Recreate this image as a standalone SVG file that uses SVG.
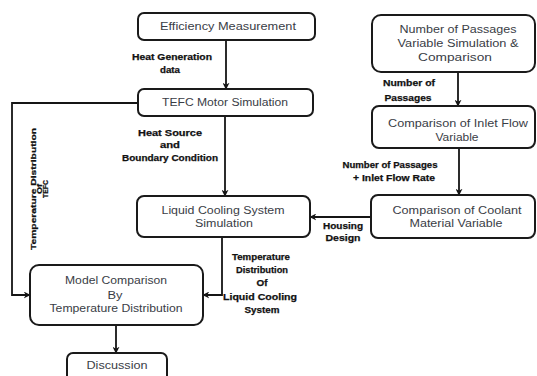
<svg xmlns="http://www.w3.org/2000/svg" width="537" height="376" viewBox="0 0 537 376">
  <defs>
    <marker id="arrow" viewBox="0 0 10 10" refX="9" refY="5" markerWidth="7" markerHeight="7" markerUnits="userSpaceOnUse" orient="auto">
      <path d="M0,0 L10,5 L0,10 L3,5 Z" fill="#151515"/>
    </marker>
    <style>
      .box { fill: #ffffff; stroke: #1a1a1a; stroke-width: 2; }
      .bt { font-family: "Liberation Sans", Arial, sans-serif; font-size: 10px; fill: #3a3d46; text-anchor: middle; }
      .lb { font-family: "Liberation Sans", Arial, sans-serif; font-size: 9px; font-weight: bold; fill: #111111; stroke: #111111; stroke-width: 0.25; text-anchor: middle; }
      .vl { font-size: 8px; }
      .conn { fill: none; stroke: #151515; stroke-width: 1.8; }
    </style>
  </defs>
  <rect width="537" height="376" fill="#ffffff"/>

  <!-- connectors -->
  <g id="connectors">
    <path class="conn" d="M226,40 V89" marker-end="url(#arrow)"/>
    <path class="conn" d="M225,116 V196" marker-end="url(#arrow)"/>
    <path class="conn" d="M138,103 H12 V295 H30" marker-end="url(#arrow)"/>
    <path class="conn" d="M222,237 V295 H203" marker-end="url(#arrow)"/>
    <path class="conn" d="M116,325 V353" marker-end="url(#arrow)"/>
    <path class="conn" d="M458,72 V106" marker-end="url(#arrow)"/>
    <path class="conn" d="M459,148 V195" marker-end="url(#arrow)"/>
    <path class="conn" d="M372,217 H310" marker-end="url(#arrow)"/>
  </g>

  <!-- connector labels -->
  <g id="labels">
    <text class="lb" x="172" y="60" textLength="80" lengthAdjust="spacingAndGlyphs">Heat Generation</text>
    <text class="lb" x="170" y="73" textLength="20" lengthAdjust="spacingAndGlyphs">data</text>
    <text class="lb" x="170" y="136" textLength="64" lengthAdjust="spacingAndGlyphs">Heat Source</text>
    <text class="lb" x="170" y="148" textLength="20" lengthAdjust="spacingAndGlyphs">and</text>
    <text class="lb" x="170" y="161" textLength="96" lengthAdjust="spacingAndGlyphs">Boundary Condition</text>
    <text class="lb" x="409" y="86" textLength="52" lengthAdjust="spacingAndGlyphs">Number of</text>
    <text class="lb" x="408" y="101" textLength="47" lengthAdjust="spacingAndGlyphs">Passages</text>
    <text class="lb" x="390" y="168" textLength="95" lengthAdjust="spacingAndGlyphs">Number of Passages</text>
    <text class="lb" x="394" y="181" textLength="82" lengthAdjust="spacingAndGlyphs">+ Inlet Flow Rate</text>
    <text class="lb" x="343" y="229" textLength="40" lengthAdjust="spacingAndGlyphs">Housing</text>
    <text class="lb" x="343" y="241" textLength="35" lengthAdjust="spacingAndGlyphs">Design</text>
    <text class="lb" x="261" y="260" textLength="58" lengthAdjust="spacingAndGlyphs">Temperature</text>
    <text class="lb" x="262" y="273" textLength="52" lengthAdjust="spacingAndGlyphs">Distribution</text>
    <text class="lb" x="262" y="286" textLength="11" lengthAdjust="spacingAndGlyphs">Of</text>
    <text class="lb" x="260" y="300" textLength="74" lengthAdjust="spacingAndGlyphs">Liquid Cooling</text>
    <text class="lb" x="262" y="313" textLength="35" lengthAdjust="spacingAndGlyphs">System</text>
    <g transform="translate(0,189) rotate(-90)">
      <text class="lb vl" x="0" y="35.5" textLength="122" lengthAdjust="spacingAndGlyphs">Temperature Distribution</text>
      <text class="lb vl" x="0" y="41.5" textLength="10" lengthAdjust="spacingAndGlyphs">Of</text>
      <text class="lb vl" x="0" y="47.5" textLength="18" lengthAdjust="spacingAndGlyphs">TEFC</text>
    </g>
  </g>

  <!-- process boxes -->
  <g id="efficiency-measurement">
    <rect class="box" x="138" y="13" width="177" height="27" rx="6"/>
    <text class="bt" x="228" y="30" textLength="136" lengthAdjust="spacingAndGlyphs">Efficiency Measurement</text>
  </g>
  <g id="tefc-motor-simulation">
    <rect class="box" x="138" y="89" width="175" height="27" rx="6"/>
    <text class="bt" x="225" y="106" textLength="126" lengthAdjust="spacingAndGlyphs">TEFC Motor Simulation</text>
  </g>
  <g id="passages-simulation">
    <rect class="box" x="372" y="15" width="163" height="57" rx="9"/>
    <text class="bt" x="458" y="33" textLength="117" lengthAdjust="spacingAndGlyphs">Number of Passages</text>
    <text class="bt" x="458" y="47" textLength="121" lengthAdjust="spacingAndGlyphs">Variable Simulation &amp;</text>
    <text class="bt" x="455" y="61" textLength="74" lengthAdjust="spacingAndGlyphs">Comparison</text>
  </g>
  <g id="inlet-flow-comparison">
    <rect class="box" x="372" y="106" width="163" height="42" rx="7"/>
    <text class="bt" x="458" y="127" textLength="140" lengthAdjust="spacingAndGlyphs">Comparison of Inlet Flow</text>
    <text class="bt" x="457" y="141" textLength="43" lengthAdjust="spacingAndGlyphs">Variable</text>
  </g>
  <g id="coolant-comparison">
    <rect class="box" x="371" y="195" width="164" height="43" rx="7"/>
    <text class="bt" x="457" y="214" textLength="129" lengthAdjust="spacingAndGlyphs">Comparison of Coolant</text>
    <text class="bt" x="456" y="227" textLength="93" lengthAdjust="spacingAndGlyphs">Material Variable</text>
  </g>
  <g id="liquid-cooling-simulation">
    <rect class="box" x="137" y="196" width="173" height="41" rx="7"/>
    <text class="bt" x="223" y="214" textLength="123" lengthAdjust="spacingAndGlyphs">Liquid Cooling System</text>
    <text class="bt" x="224" y="227" textLength="58" lengthAdjust="spacingAndGlyphs">Simulation</text>
  </g>
  <g id="model-comparison">
    <rect class="box" x="30" y="265" width="173" height="60" rx="9"/>
    <text class="bt" x="116" y="284" textLength="102" lengthAdjust="spacingAndGlyphs">Model Comparison</text>
    <text class="bt" x="115" y="299" textLength="15" lengthAdjust="spacingAndGlyphs">By</text>
    <text class="bt" x="116" y="312" textLength="133" lengthAdjust="spacingAndGlyphs">Temperature Distribution</text>
  </g>
  <g id="discussion">
    <rect class="box" x="67" y="353" width="100" height="30" rx="6"/>
    <text class="bt" x="117" y="369" textLength="61" lengthAdjust="spacingAndGlyphs">Discussion</text>
  </g>
</svg>
